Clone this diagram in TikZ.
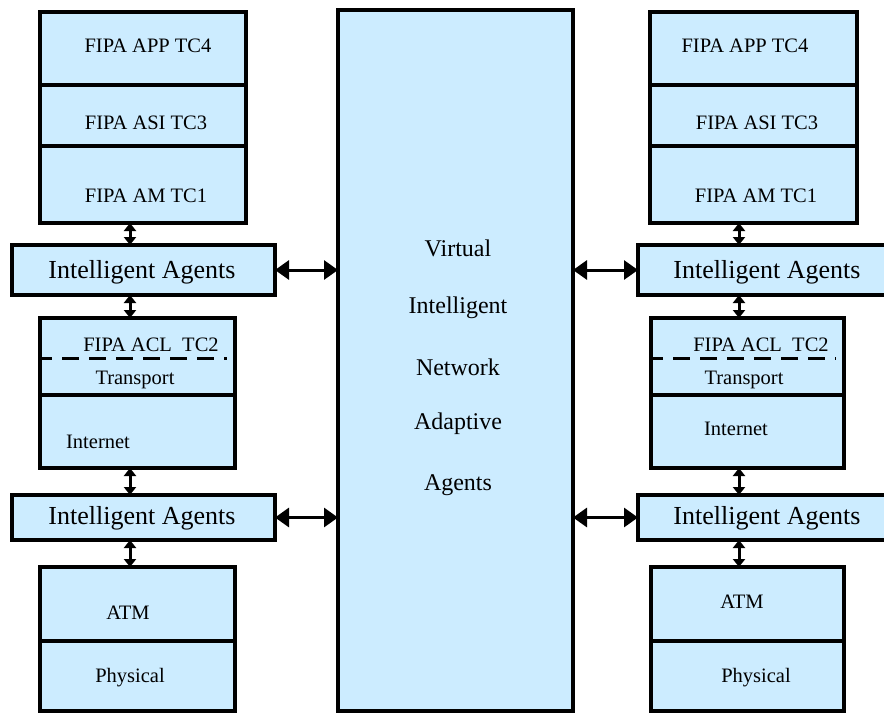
\documentclass[tikz,border=0pt]{standalone}
\usepackage{fontspec}
\setmainfont{Liberation Serif}
\usepackage{tikz}
\usetikzlibrary{arrows.meta}
\usetikzlibrary{positioning}
\definecolor{layerblue}{RGB}{204,236,255}
\tikzstyle{layer}=[draw=black,line width=3.5pt,fill=layerblue,inner sep=0pt,outer sep=0pt]
\tikzstyle{lbl}=[inner sep=0pt,font=\fontsize{20.5}{24}\selectfont]
\tikzstyle{agentlbl}=[inner sep=0pt,font=\fontsize{26}{30}\selectfont]
\tikzstyle{vlbl}=[inner sep=0pt,font=\fontsize{24}{28}\selectfont]
\tikzstyle{updown}=[line width=3pt,>/.tip={Triangle[length=8pt,width=12pt]},<->]
\tikzstyle{link}=[line width=3pt,>/.tip={Triangle[length=14pt,width=19pt]},<->]
\tikzstyle{acldash}=[line width=3pt,dash pattern=on 17pt off 10pt,dash phase=5pt]
\begin{document}
\begin{tikzpicture}[x=1pt,y=-1pt]
\useasboundingbox (0,0) rectangle (884,713);
\clip (0,0) rectangle (884,713);
% centre column
\node[layer,minimum width=235,minimum height=701,anchor=north west] (vina) at (338,10) {};
\node[vlbl] (vina1) at (458,248) {Virtual};
\node[vlbl] (vina2) at (458,308) {Intelligent};
\node[vlbl] (vina3) at (458,367) {Network};
\node[vlbl] (vina4) at (458,424) {Adaptive};
\node[vlbl] (vina5) at (458,485) {Agents};
% left stack
\node[layer,minimum width=206,minimum height=73,anchor=north west] (lapp) at (40,12) {};
\node[layer,minimum width=206,minimum height=61,below=0pt of lapp] (lasi) {};
\node[layer,minimum width=206,minimum height=77,below=0pt of lasi] (lam) {};
\node[layer,minimum width=263,minimum height=50,anchor=north west] (lia1) at (12,245) {};
\node[layer,minimum width=195,minimum height=77,anchor=north west] (ltrans) at (40,318) {};
\node[layer,minimum width=195,minimum height=73,below=0pt of ltrans] (lnet) {};
\node[layer,minimum width=263,minimum height=45,anchor=north west] (lia2) at (12,495) {};
\node[layer,minimum width=195,minimum height=74,anchor=north west] (latm) at (40,567) {};
\node[layer,minimum width=195,minimum height=70,below=0pt of latm] (lphy) {};
\draw[acldash] ([yshift=-40pt]ltrans.north west) -- ([xshift=-8pt,yshift=-40pt]ltrans.north east);
\node[lbl] (lappt) at (148,46) {FIPA APP TC4};
\node[lbl] (lasit) at (146,123) {FIPA ASI TC3};
\node[lbl] (lamt) at (146,196) {FIPA AM TC1};
\node[agentlbl] (lia1t) at (142,272) {Intelligent Agents};
\node[lbl] (lacl) at (151,345) {FIPA ACL\ \ TC2};
\node[lbl] (ltranst) at (135,380) {Transport};
\node[lbl] (lnett) at (98,442) {Internet};
\node[agentlbl] (lia2t) at (142,518) {Intelligent Agents};
\node[lbl] (latmt) at (128,613) {ATM};
\node[lbl] (lphyt) at (130,678) {Physical};
% right stack
\node[layer,minimum width=207,minimum height=73,anchor=north west] (rapp) at (650,12) {};
\node[layer,minimum width=207,minimum height=61,below=0pt of rapp] (rasi) {};
\node[layer,minimum width=207,minimum height=77,below=0pt of rasi] (ram) {};
\node[layer,minimum width=263,minimum height=50,anchor=north west] (ria1) at (638,245) {};
\node[layer,minimum width=193,minimum height=77,anchor=north west] (rtrans) at (651,318) {};
\node[layer,minimum width=193,minimum height=73,below=0pt of rtrans] (rnet) {};
\node[layer,minimum width=263,minimum height=45,anchor=north west] (ria2) at (638,495) {};
\node[layer,minimum width=193,minimum height=74,anchor=north west] (ratm) at (651,567) {};
\node[layer,minimum width=193,minimum height=70,below=0pt of ratm] (rphy) {};
\draw[acldash] ([yshift=-40pt]rtrans.north west) -- ([xshift=-8pt,yshift=-40pt]rtrans.north east);
\node[lbl] (rappt) at (745,46) {FIPA APP TC4};
\node[lbl] (rasit) at (757,123) {FIPA ASI TC3};
\node[lbl] (ramt) at (756,196) {FIPA AM TC1};
\node[agentlbl] (ria1t) at (767,272) {Intelligent Agents};
\node[lbl] (racl) at (761,345) {FIPA ACL\ \ TC2};
\node[lbl] (rtranst) at (744,380) {Transport};
\node[lbl] (rnett) at (736,429) {Internet};
\node[agentlbl] (ria2t) at (767,518) {Intelligent Agents};
\node[lbl] (ratmt) at (742,602) {ATM};
\node[lbl] (rphyt) at (756,678) {Physical};
% links
\coordinate (lx) at (130,0);
\coordinate (rx) at (739,0);
\draw[updown] (lam.south -| lx) -- (lia1.north -| lx);
\draw[updown] (lia1.south -| lx) -- (ltrans.north -| lx);
\draw[updown] (lnet.south -| lx) -- (lia2.north -| lx);
\draw[updown] (lia2.south -| lx) -- (latm.north -| lx);
\draw[updown] (ram.south -| rx) -- (ria1.north -| rx);
\draw[updown] (ria1.south -| rx) -- (rtrans.north -| rx);
\draw[updown] (rnet.south -| rx) -- (ria2.north -| rx);
\draw[updown] (ria2.south -| rx) -- (ratm.north -| rx);
\draw[link] (lia1.east) -- (lia1.east -| vina.west);
\draw[link] (lia2.east) -- (lia2.east -| vina.west);
\draw[link] (ria1.west) -- (ria1.west -| vina.east);
\draw[link] (ria2.west) -- (ria2.west -| vina.east);
\end{tikzpicture}
\end{document}
